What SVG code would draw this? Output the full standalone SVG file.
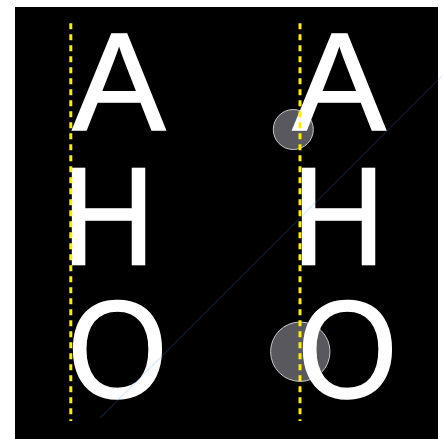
<svg xmlns="http://www.w3.org/2000/svg" width="443" height="439" viewBox="0 0 443 439">
  <style>
    .glyph { font-family: "Liberation Sans", Arial, sans-serif; font-size: 140px; fill: #ffffff; stroke: #ffffff; stroke-width: 1.5; stroke-linejoin: miter; }
    .guide { stroke: #ffee00; stroke-width: 3; stroke-dasharray: 6 5; fill: none; }
    .marker { fill: #59585e; stroke: #c8c8c8; stroke-width: 1; }
  </style>
  <rect x="0" y="0" width="443" height="439" fill="#ffffff"/>
  <rect x="15" y="7" width="423" height="432" fill="#000000"/>
  <g id="markers">
    <circle class="marker" cx="293.3" cy="129.5" r="20"/>
    <circle class="marker" cx="300.3" cy="351.7" r="29.7"/>
  </g>
  <g id="left-column">
    <text class="glyph"><tspan x="72.2" y="129.5">A</tspan><tspan x="62" y="263.5" textLength="93" lengthAdjust="spacingAndGlyphs">H</tspan><tspan x="67.6" y="397.5" textLength="100" lengthAdjust="spacingAndGlyphs">O</tspan></text>
  </g>
  <g id="right-column">
    <text class="glyph"><tspan x="292.5" y="129.5">A</tspan><tspan x="292" y="263.5" textLength="93" lengthAdjust="spacingAndGlyphs">H</tspan><tspan x="297.6" y="397.5" textLength="100" lengthAdjust="spacingAndGlyphs">O</tspan></text>
  </g>
  <g id="connectors">
    <line class="guide" x1="70.8" y1="23.3" x2="70.8" y2="421"/>
    <line class="guide" x1="300" y1="23.3" x2="300" y2="421"/>
    <line x1="100" y1="418" x2="443" y2="75" stroke="#4a8ac8" stroke-opacity="0.2" stroke-width="1.2"/>
  </g>
</svg>
